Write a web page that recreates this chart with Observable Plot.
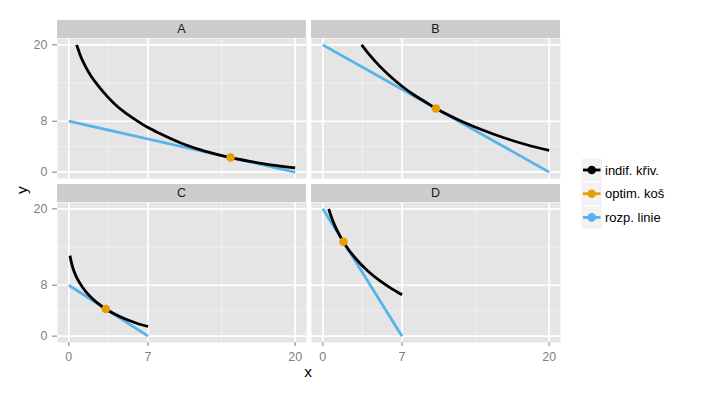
<!DOCTYPE html>
<html>
<head>
<meta charset="utf-8">
<script src="https://cdn.jsdelivr.net/npm/d3@7"></script>
<script src="https://cdn.jsdelivr.net/npm/@observablehq/plot@0.6"></script>
<style>
  html, body { margin: 0; padding: 0; background: #ffffff; }
  #chart { position: relative; width: 708px; height: 393px; overflow: hidden; font-family: "Liberation Sans", Arial, sans-serif; }
  .panel { position: absolute; }
  .strip { position: absolute; background: #CCCCCC; color: #1A1A1A; text-align: center; font-size: 12.5px; }
  #overlay { position: absolute; left: 0; top: 0; }
</style>
</head>
<body>
<div id="chart"></div>
<script>
// ---------------- data ----------------
const panelNames = ["A", "B", "C", "D"];
const xBreaks = [0, 7, 20];
const yBreaks = [0, 8, 20];
const xMinor = [3.5, 13.5];
const yMinor = [4, 14];
const seriesNames = ["indif. křiv.", "optim. koš", "rozp. linie"];
const seriesColors = ["#000000", "#E69F00", "#56B4E9"];

// indifference curves
const curveAx = [0.69, 0.85, 1, 1.25, 1.5, 2, 2.5, 3, 4, 5, 6, 7, 8, 10, 12, 14, 16, 18, 20];
const curveAy = [20, 19.2, 18.4, 17.4, 16.5, 15.0, 13.8, 12.7, 10.8, 9.3, 8.1, 7.0, 6.1, 4.5, 3.3, 2.4, 1.7, 1.1, 0.67];
const curveBx = [3.43, 4, 5, 6, 7, 8, 9, 10, 12, 14, 16, 18, 20];
const curveBy = [20, 18.7, 16.7, 15.0, 13.5, 12.2, 11.1, 10, 8.2, 6.7, 5.4, 4.3, 3.43];
const curveCx = [0.1, 0.25, 0.5, 1, 1.5, 2, 3, 4, 5, 6, 7];
const curveCy = [12.65, 11.4, 10.0, 8.25, 7.0, 6.05, 4.58, 3.51, 2.68, 2.03, 1.51];
const curveDx = [0.52, 0.75, 1, 1.5, 2, 3, 4, 5, 6, 7];
const curveDy = [20, 18.75, 17.6, 15.8, 14.3, 12.0, 10.2, 8.76, 7.55, 6.5];

// budget lines: intercepts on each axis
const budgetXmax = [20, 20, 7, 7];
const budgetYmax = [8, 20, 8, 20];

// optimal baskets
const optimX = [14.29, 10, 3.27, 1.82];
const optimY = [2.29, 10, 4.27, 14.82];

// ---------------- layout ----------------
const curvesX = [curveAx, curveBx, curveCx, curveDx];
const curvesY = [curveAy, curveBy, curveCy, curveDy];
const PW = 249, PH = 140;
const panelLeft = [57, 311, 57, 311];
const panelTop = [38, 38, 202, 202];
const stripTop = [20, 20, 184, 184];

const chart = document.getElementById("chart");
const font = '"Liberation Sans", Arial, sans-serif';

panelNames.forEach((name, i) => {
  const showX = i >= 2, showY = i % 2 === 0;
  const ml = showY ? panelLeft[i] : 0;
  const mb = showX ? 30 : 0;
  const curve = curvesX[i].map((x, j) => ({x, y: curvesY[i][j], s: seriesNames[0]}));
  const budget = [
    {x: 0, y: budgetYmax[i], s: seriesNames[2]},
    {x: budgetXmax[i], y: 0, s: seriesNames[2]}
  ];
  const opt = [{x: optimX[i], y: optimY[i], s: seriesNames[1]}];
  const marks = [
    Plot.frame({fill: "#E5E5E5", stroke: "none"}),
    Plot.ruleX(xMinor, {stroke: "#F2F2F2", strokeWidth: 0.9}),
    Plot.ruleY(yMinor, {stroke: "#F2F2F2", strokeWidth: 0.9}),
    Plot.ruleX(xBreaks, {stroke: "#FFFFFF", strokeWidth: 1.7}),
    Plot.ruleY(yBreaks, {stroke: "#FFFFFF", strokeWidth: 1.7}),
    Plot.line(budget, {x: "x", y: "y", stroke: "s", strokeWidth: 2.8, strokeLinecap: "butt"}),
    Plot.line(curve, {x: "x", y: "y", stroke: "s", strokeWidth: 2.8, curve: "monotone-x", strokeLinecap: "butt"}),
    Plot.dot(opt, {x: "x", y: "y", fill: "s", r: 4.3, stroke: "none"})
  ];
  if (showX) marks.push(Plot.axisX(xBreaks, {tickSize: 4, tickPadding: 6, label: null}));
  if (showY) marks.push(Plot.axisY(yBreaks, {tickSize: 5, tickPadding: 5, label: null}));
  const svg = Plot.plot({
    width: ml + PW,
    height: PH + mb,
    marginLeft: ml, marginRight: 0, marginTop: 0, marginBottom: mb,
    x: {domain: [-1, 21], axis: showX ? undefined : null},
    y: {domain: [-1, 21], axis: showY ? undefined : null},
    color: {domain: seriesNames, range: seriesColors},
    style: {color: "#7F7F7F", fontSize: "12.5px", fontFamily: font, background: "transparent", overflow: "visible"},
    marks
  });
  svg.classList.add("panel");
  svg.style.position = "absolute";
  svg.style.left = (panelLeft[i] - ml) + "px";
  svg.style.top = panelTop[i] + "px";
  chart.appendChild(svg);

  const strip = document.createElement("div");
  strip.className = "strip";
  strip.style.left = panelLeft[i] + "px";
  strip.style.top = stripTop[i] + "px";
  strip.style.width = PW + "px";
  strip.style.height = (panelTop[i] - stripTop[i]) + "px";
  strip.style.lineHeight = (panelTop[i] - stripTop[i]) + "px";
  strip.textContent = name;
  chart.appendChild(strip);
});

// overlay: axis titles and legend
const ov = d3.select(chart).append("svg")
  .attr("id", "overlay").attr("width", 708).attr("height", 393)
  .style("font-family", font);

ov.append("text").attr("x", 308).attr("y", 377).attr("text-anchor", "middle")
  .attr("font-size", 15.5).attr("fill", "#000").text("x");
ov.append("text").attr("transform", "translate(26.5,190) rotate(-90)").attr("text-anchor", "middle")
  .attr("font-size", 15.5).attr("fill", "#000").text("y");

const legendCenters = [170, 193.7, 217.4];
const keyH = 23.7, keyW = 21.5, keyX = 581;
seriesNames.forEach((nm, k) => {
  const cy = legendCenters[k];
  const g = ov.append("g");
  g.append("rect").attr("x", keyX).attr("y", cy - keyH / 2).attr("width", keyW).attr("height", keyH)
    .attr("fill", "#F2F2F2").attr("stroke", "#FFFFFF").attr("stroke-width", 1);
  g.append("line").attr("x1", keyX + 2).attr("x2", keyX + keyW - 2).attr("y1", cy).attr("y2", cy)
    .attr("stroke", seriesColors[k]).attr("stroke-width", 2.8);
  g.append("circle").attr("cx", keyX + keyW / 2).attr("cy", cy).attr("r", 4.3).attr("fill", seriesColors[k]);
  g.append("text").attr("x", 605).attr("y", cy).attr("dy", "0.35em")
    .attr("font-size", 13).attr("fill", "#000").text(nm);
});
</script>
</body>
</html>
